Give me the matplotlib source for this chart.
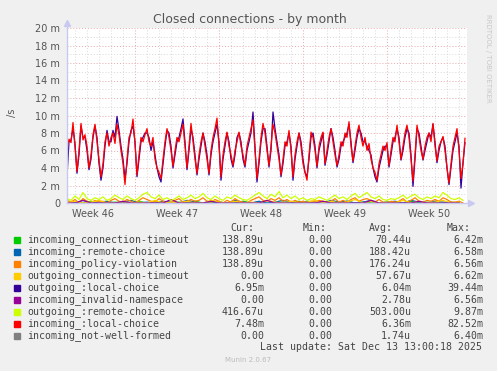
import numpy as np
import matplotlib
matplotlib.use('Agg')
import matplotlib.pyplot as plt
from matplotlib.patches import Rectangle

W, H = 497, 371

# values in milli-closes per second, one sample every 4 hours
red = [6.2, 7.3, 6.9, 9.2, 6.4, 3.6, 6.0, 9.1, 7.2, 7.8, 6.5, 4.0, 5.5, 7.8, 9.0, 7.0, 5.0, 3.0, 4.5, 7.0,
       8.0, 6.5, 7.5, 8.0, 6.8, 9.0, 7.8, 6.0, 4.5, 2.1, 5.0, 7.5, 8.0, 9.6, 6.8, 3.2, 5.5, 7.5, 7.0, 7.8,
       8.5, 7.0, 6.5, 7.5, 5.0, 4.0, 3.5, 2.8, 5.0, 7.0, 8.5, 7.5, 6.0, 4.2, 6.0, 7.5, 7.0, 8.0, 9.0, 6.5,
       4.0, 6.5, 9.1, 7.0, 5.0, 3.4, 5.5, 7.0, 8.0, 6.5, 5.0, 3.4, 6.0, 7.5, 8.5, 9.7, 6.5, 3.0, 5.5, 7.0,
       8.1, 6.5, 5.5, 4.3, 6.0, 7.0, 8.1, 6.5, 5.5, 4.3, 6.5, 7.5, 8.5, 9.5, 6.0, 2.8, 5.0, 7.5, 9.1, 8.0,
       6.0, 4.3, 6.5, 9.0, 8.0, 6.5, 5.0, 3.2, 5.0, 7.0, 6.5, 8.3, 6.0, 3.0, 5.5, 7.0, 8.0, 6.5, 4.5, 3.5,
       2.6, 5.5, 8.1, 7.5, 6.0, 4.2, 6.5, 7.5, 8.1, 4.5, 6.0, 7.5, 8.5, 7.0, 5.5, 4.3, 5.5, 7.0, 6.5, 8.0,
       7.5, 9.3, 6.5, 4.8, 6.5, 8.0, 8.9, 7.5, 6.5, 7.5, 6.0, 6.8, 5.0, 4.0, 3.5, 2.6, 4.5, 5.5, 6.5, 6.0,
       6.9, 4.3, 6.0, 7.5, 7.0, 8.9, 7.0, 5.0, 6.5, 8.0, 8.9, 7.5, 5.0, 2.5, 5.5, 8.9, 7.5, 6.0, 5.0, 6.5,
       7.5, 8.0, 7.0, 9.1, 6.5, 4.8, 6.5, 7.0, 7.6, 6.0, 4.0, 2.3, 4.5, 6.5, 7.5, 8.5, 6.0, 2.8, 4.5, 7.4]

indigo = [3.0, 7.0, 7.2, 8.5, 6.8, 3.4, 5.5, 8.8, 7.5, 7.5, 6.0, 3.8, 5.0, 7.5, 8.8, 7.5, 4.5, 2.6, 4.0, 6.5,
          8.3, 7.0, 7.0, 8.3, 7.5, 9.9, 8.3, 6.5, 5.0, 2.8, 4.5, 7.0, 8.3, 8.8, 7.0, 3.0, 5.0, 7.0, 7.5, 8.0,
          8.0, 7.5, 6.0, 7.0, 5.5, 4.0, 3.0, 2.4, 4.5, 6.5, 8.3, 8.0, 6.5, 4.0, 5.5, 7.0, 7.5, 8.5, 9.6, 7.0,
          3.8, 6.0, 8.5, 7.5, 5.5, 3.2, 5.0, 6.5, 8.0, 7.0, 5.5, 3.2, 5.5, 7.0, 8.0, 9.0, 7.0, 2.6, 5.0, 6.5,
          8.0, 7.0, 5.0, 4.1, 5.5, 7.5, 8.0, 7.0, 5.0, 4.1, 6.0, 7.0, 8.0, 10.4, 6.5, 2.4, 4.5, 7.0, 8.5, 8.5,
          6.5, 4.1, 6.0, 10.4, 8.5, 7.0, 5.5, 3.0, 4.5, 6.5, 7.0, 8.0, 6.5, 2.6, 5.0, 6.5, 8.0, 7.0, 5.0, 3.5,
          3.0, 5.0, 7.5, 8.0, 6.5, 4.0, 6.0, 7.0, 8.0, 4.3, 5.5, 7.0, 8.5, 7.5, 6.0, 4.1, 5.0, 6.5, 7.0, 7.5,
          8.0, 9.0, 7.0, 4.6, 6.0, 7.5, 8.5, 8.0, 7.0, 7.0, 6.5, 6.0, 5.5, 4.0, 3.0, 2.4, 4.0, 5.0, 6.0, 6.5,
          6.5, 4.1, 5.5, 7.0, 7.5, 8.5, 7.5, 4.9, 6.0, 7.5, 8.5, 8.0, 5.5, 1.9, 5.0, 8.5, 8.0, 6.5, 4.9, 6.0,
          7.0, 8.0, 7.5, 9.0, 7.0, 4.6, 6.0, 7.0, 7.5, 6.5, 4.0, 2.1, 4.0, 6.0, 7.0, 8.0, 6.5, 1.7, 4.6, 6.9]

# low series, one sample every 8 hours
lime = [0.5, 0.3, 0.8, 0.4, 1.2, 0.5, 0.3, 0.6, 0.4, 0.7, 0.3, 0.5, 0.9, 0.6, 0.4, 0.8, 0.5, 0.3, 0.6, 1.0,
        1.2, 0.7, 0.5, 0.9, 0.4, 0.6, 0.3, 0.5, 0.8, 0.4, 0.6, 0.9, 0.5, 0.7, 1.1, 0.6, 0.4, 0.8, 0.5, 0.3,
        0.7, 0.5, 0.9, 0.6, 0.4, 0.3, 0.6, 0.9, 1.2, 0.8, 0.5, 1.0, 0.7, 1.3, 0.6, 0.9, 0.5, 0.8, 0.4, 0.6,
        0.3, 0.5, 0.4, 0.7, 0.5, 0.3, 0.6, 0.9, 0.5, 0.7, 0.4, 0.8, 1.1, 0.6, 0.9, 1.2, 0.7, 0.5, 0.8, 0.4,
        0.3, 0.5, 0.4, 0.6, 0.9, 0.5, 0.8, 1.0, 0.6, 0.4, 0.7, 0.5, 0.8, 0.6, 1.2, 0.9, 0.5, 0.4, 0.6, 0.3]
orange = [0.3, 0.1, 0.4, 0.0, 0.5, 0.2, 0.0, 0.3, 0.1, 0.2, 0.0, 0.3, 0.5, 0.2, 0.1, 0.4, 0.2, 0.0, 0.3, 0.6,
          0.4, 0.2, 0.1, 0.5, 0.2, 0.0, 0.1, 0.3, 0.5, 0.1, 0.2, 0.4, 0.2, 0.3, 0.6, 0.2, 0.1, 0.4, 0.2, 0.0,
          0.3, 0.1, 0.5, 0.2, 0.1, 0.0, 0.3, 0.5, 0.7, 0.3, 0.2, 0.5, 0.3, 0.6, 0.2, 0.4, 0.1, 0.3, 0.1, 0.2,
          0.0, 0.2, 0.1, 0.3, 0.2, 0.0, 0.2, 0.5, 0.1, 0.3, 0.1, 0.4, 0.6, 0.2, 0.4, 0.5, 0.3, 0.1, 0.4, 0.1,
          0.0, 0.2, 0.1, 0.2, 0.5, 0.1, 0.3, 0.6, 0.2, 0.1, 0.3, 0.2, 0.4, 0.2, 0.6, 0.4, 0.1, 0.1, 0.2, 0.0]
# sparse series, one sample every 16 hours
green = [0.0, 0.1, 0.0, 0.2, 0.0, 0.0, 0.1, 0.0, 0.0, 0.2, 0.0, 0.1, 0.0, 0.0, 0.1, 0.0, 0.2, 0.0, 0.0, 0.1,
         0.0, 0.0, 0.2, 0.0, 0.1, 0.0, 0.0, 0.1, 0.0, 0.2, 0.0, 0.0, 0.1, 0.0, 0.0, 0.2, 0.0, 0.1, 0.0, 0.0,
         0.1, 0.0, 0.0, 0.2, 0.0, 0.1, 0.0, 0.0, 0.1, 0.0]
steel = [0.1, 0.0, 0.3, 0.0, 0.1, 0.2, 0.0, 0.1, 0.3, 0.0, 0.1, 0.0, 0.2, 0.1, 0.0, 0.3, 0.1, 0.0, 0.2, 0.1,
         0.0, 0.3, 0.1, 0.0, 0.2, 0.0, 0.1, 0.3, 0.1, 0.0, 0.2, 0.1, 0.0, 0.3, 0.1, 0.2, 0.0, 0.1, 0.3, 0.0,
         0.1, 0.2, 0.0, 0.3, 0.1, 0.0, 0.2, 0.1, 0.0, 0.1]
yellow = [0.0, 0.2, 0.0, 0.1, 0.3, 0.0, 0.0, 0.2, 0.0, 0.1, 0.0, 0.3, 0.0, 0.1, 0.0, 0.2, 0.0, 0.0, 0.3, 0.1,
          0.0, 0.2, 0.0, 0.1, 0.0, 0.3, 0.1, 0.0, 0.2, 0.0, 0.1, 0.3, 0.0, 0.2, 0.0, 0.1, 0.4, 0.0, 0.2, 0.0,
          0.1, 0.0, 0.3, 0.0, 0.2, 0.0, 0.1, 0.3, 0.0, 0.1]
purple = [0.0, 0.0, 0.3, 0.0, 0.0, 0.0, 0.0, 0.2, 0.0, 0.0, 0.0, 0.0, 0.0, 0.4, 0.0, 0.0, 0.0, 0.0, 0.2, 0.0,
          0.0, 0.0, 0.0, 0.0, 0.0, 0.3, 0.0, 0.0, 0.0, 0.0, 0.0, 0.0, 0.2, 0.0, 0.0, 0.0, 0.0, 0.0, 0.3, 0.0,
          0.0, 0.0, 0.0, 0.0, 0.2, 0.0, 0.0, 0.0, 0.0, 0.0]
grey = [0.0] * 50

names = ['incoming_connection-timeout', 'incoming_:remote-choice', 'incoming_policy-violation',
         'outgoing_connection-timeout', 'outgoing_:local-choice', 'incoming_invalid-namespace',
         'outgoing_:remote-choice', 'incoming_:local-choice', 'incoming_not-well-formed']
colors = ['#00CC00', '#0066B3', '#FF8000', '#FFCC00', '#330099', '#990099', '#CCFF00', '#FF0000', '#808080']
cur = ['138.89u', '138.89u', '138.89u', '0.00', '6.95m', '0.00', '416.67u', '7.48m', '0.00']
mins = ['0.00'] * 9
avgs = ['70.44u', '188.42u', '176.24u', '57.67u', '6.04m', '2.78u', '503.00u', '6.36m', '1.74u']
maxs = ['6.42m', '6.58m', '6.56m', '6.62m', '39.44m', '6.56m', '9.87m', '82.52m', '6.40m']

week_labels = ['Week 46', 'Week 47', 'Week 48', 'Week 49', 'Week 50']


def fx(x):
    return x / W


def fy(y):
    return 1 - y / H


fig = plt.figure(figsize=(W / 100, H / 100), dpi=100, facecolor='#F0F0F0')
ax = fig.add_axes([fx(67), fy(203), 400 / W, 175 / H])
ax.set_facecolor('white')
span = 400 / 12  # days shown
ax.set_xlim(0, span)
ax.set_ylim(0, 20)

# grid: one day minor, one week major; 1 m minor, 2 m major
for d in np.arange(2 / 3, span, 1.0):
    major = abs((d - 17 / 3) / 7 - round((d - 17 / 3) / 7)) < 1e-6
    ax.axvline(d, color='#E8A8A8' if major else '#D8D8D8', lw=0.7, ls=(0, (1, 2)), zorder=1)
for v in range(1, 21):
    ax.axhline(v, color='#E8A8A8' if v % 2 == 0 else '#D8D8D8', lw=0.7, ls=(0, (1, 2)), zorder=1)

t4 = np.arange(len(red)) * 4 / 24
t8 = np.arange(len(lime)) * 8 / 24
t16 = np.arange(len(green)) * 16 / 24
series = [(t16, green), (t16, steel), (t8, orange), (t16, yellow), (t4, indigo),
          (t16, purple), (t8, lime), (t4, red), (t16, grey)]
for (t, v), c in zip(series, colors):
    ax.plot(t, v, color=c, lw=0.9, zorder=3)

for s in ['top', 'right']:
    ax.spines[s].set_visible(False)
for s in ['left', 'bottom']:
    ax.spines[s].set_visible(False)
ax.plot([0, 0], [0, 20.5], color='#C8C8F0', lw=1, clip_on=False, zorder=4)
ax.plot([0, span + 0.3], [0, 0], color='#C8C8F0', lw=1, clip_on=False, zorder=4)
ax.plot([0], [20.6], marker='^', color='#C8C8F0', ms=4, clip_on=False, zorder=4)
ax.plot([span + 0.35], [0], marker='>', color='#C8C8F0', ms=4, clip_on=False, zorder=4)

ax.set_yticks(range(0, 21, 2))
ax.set_yticklabels(['0'] + ['%d m' % v for v in range(2, 21, 2)])
ax.set_xticks([13 / 6 + 7 * k for k in range(5)])
ax.set_xticklabels(week_labels)
ax.tick_params(length=0, labelsize=7, colors='#555555')
ax.tick_params(axis='y', pad=5)
ax.tick_params(axis='x', pad=4)

fig.text(fx(250), fy(19), 'Closed connections - by month', ha='center', va='center',
         fontsize=9, color='#555555')
fig.text(fx(12), fy(113), '/s', rotation=90, ha='center', va='center', fontsize=7, color='#555555')
fig.text(fx(488), fy(58), 'RRDTOOL / TOBI OETIKER', rotation=270, ha='center', va='center',
         fontsize=5, color='#C8C8C8')

mono = dict(family='DejaVu Sans Mono', fontsize=7.1, color='#444444', va='center')
fig.text(fx(230), fy(228), 'Cur:', **mono)
fig.text(fx(303), fy(228), 'Min:', **mono)
fig.text(fx(369), fy(228), 'Avg:', **mono)
fig.text(fx(447), fy(228), 'Max:', **mono)
for i in range(9):
    y = 240 + 12 * i
    fig.patches.append(Rectangle((fx(14), fy(y + 3)), 6 / W, 6 / H, transform=fig.transFigure,
                                 color=colors[i], figure=fig))
    fig.text(fx(27), fy(y), names[i], ha='left', **mono)
    fig.text(fx(264), fy(y), cur[i], ha='right', **mono)
    fig.text(fx(332), fy(y), mins[i], ha='right', **mono)
    fig.text(fx(411), fy(y), avgs[i], ha='right', **mono)
    fig.text(fx(483), fy(y), maxs[i], ha='right', **mono)
fig.text(fx(482), fy(347), 'Last update: Sat Dec 13 13:00:18 2025', ha='right', **mono)
fig.text(fx(248), fy(360), 'Munin 2.0.67', ha='center', va='center', fontsize=5, color='#BBBBBB')

fig.savefig('out.png', dpi=100, facecolor=fig.get_facecolor())
